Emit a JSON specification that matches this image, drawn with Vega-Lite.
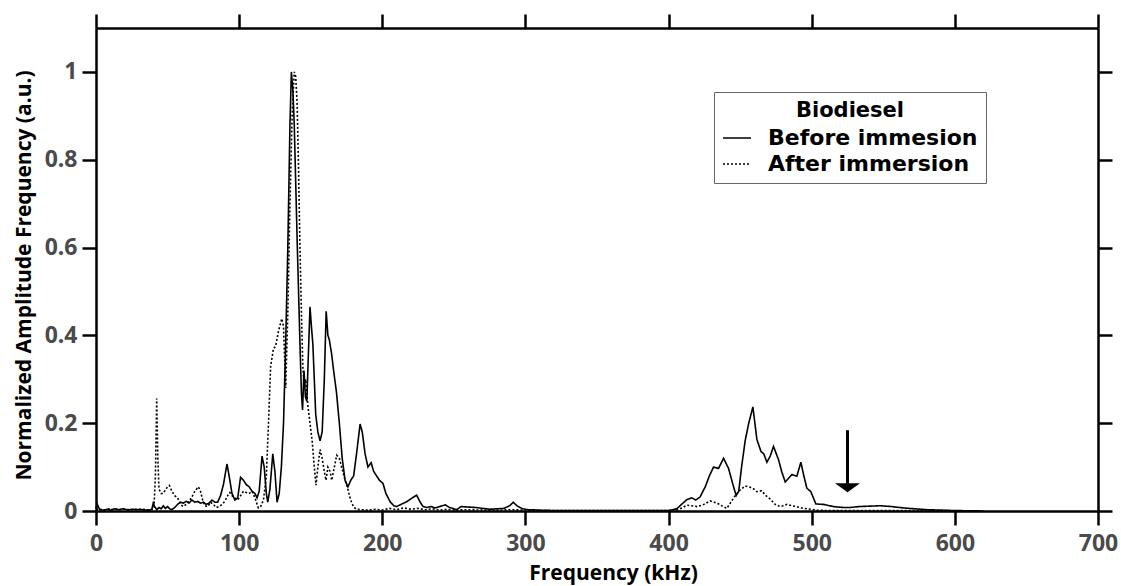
{
  "$schema": "https://vega.github.io/schema/vega-lite/v6.json",
  "width": 1002,
  "height": 483,
  "autosize": {"type": "none"},
  "padding": {"left": 96, "top": 28, "right": 23, "bottom": 75},
  "background": "white",
  "config": {
    "view": {"stroke": null},
    "axis": {
      "grid": false,
      "domainColor": "black",
      "domainWidth": 2.5,
      "tickColor": "black",
      "tickWidth": 2.5,
      "tickSize": 14,
      "labelFont": "Open Sans",
      "labelFontWeight": "bold",
      "labelFontSize": 23,
      "labelColor": "#4a4a4a",
      "titleFont": "Open Sans",
      "titleFontWeight": "bold",
      "titleFontSize": 21,
      "titleColor": "black"
    },
    "legend": {
      "orient": "none",
      "legendX": 618,
      "legendY": 64,
      "strokeColor": "#666666",
      "fillColor": "white",
      "padding": 8,
      "titleFont": "DejaVu Sans",
      "titleFontSize": 21,
      "titleFontWeight": "bold",
      "titleColor": "black",
      "titleAnchor": "middle",
      "titlePadding": 2,
      "titleLimit": 0,
      "labelFont": "DejaVu Sans",
      "labelFontSize": 22,
      "labelFontWeight": "bold",
      "labelColor": "black",
      "labelLimit": 0,
      "symbolType": "stroke",
      "symbolSize": 784,
      "symbolStrokeWidth": 1.5,
      "symbolStrokeColor": "black",
      "labelOffset": 16,
      "rowPadding": 0
    }
  },
  "resolve": {"axis": {"x": "independent", "y": "independent"}},
  "layer": [
    {
      "data": {
        "values": [
          {"f": 0, "a": 0.005, "s": "Before immesion"},
          {"f": 0.8, "a": 0.016, "s": "Before immesion"},
          {"f": 1.6, "a": 0.01, "s": "Before immesion"},
          {"f": 2.5, "a": 0.003, "s": "Before immesion"},
          {"f": 5, "a": 0.002, "s": "Before immesion"},
          {"f": 8, "a": 0.004, "s": "Before immesion"},
          {"f": 10, "a": 0.002, "s": "Before immesion"},
          {"f": 13, "a": 0.005, "s": "Before immesion"},
          {"f": 16, "a": 0.003, "s": "Before immesion"},
          {"f": 19, "a": 0.005, "s": "Before immesion"},
          {"f": 22, "a": 0.002, "s": "Before immesion"},
          {"f": 25, "a": 0.004, "s": "Before immesion"},
          {"f": 28, "a": 0.003, "s": "Before immesion"},
          {"f": 31, "a": 0.004, "s": "Before immesion"},
          {"f": 34, "a": 0.002, "s": "Before immesion"},
          {"f": 37, "a": 0.002, "s": "Before immesion"},
          {"f": 39, "a": 0.004, "s": "Before immesion"},
          {"f": 40, "a": 0.018, "s": "Before immesion"},
          {"f": 41, "a": 0.01, "s": "Before immesion"},
          {"f": 42.5, "a": 0.003, "s": "Before immesion"},
          {"f": 44, "a": 0.008, "s": "Before immesion"},
          {"f": 45.5, "a": 0.005, "s": "Before immesion"},
          {"f": 47, "a": 0.012, "s": "Before immesion"},
          {"f": 48.5, "a": 0.006, "s": "Before immesion"},
          {"f": 50, "a": 0.01, "s": "Before immesion"},
          {"f": 51.5, "a": 0.005, "s": "Before immesion"},
          {"f": 53, "a": 0.003, "s": "Before immesion"},
          {"f": 55, "a": 0.008, "s": "Before immesion"},
          {"f": 57, "a": 0.015, "s": "Before immesion"},
          {"f": 59, "a": 0.02, "s": "Before immesion"},
          {"f": 61, "a": 0.018, "s": "Before immesion"},
          {"f": 63, "a": 0.022, "s": "Before immesion"},
          {"f": 65, "a": 0.018, "s": "Before immesion"},
          {"f": 67, "a": 0.025, "s": "Before immesion"},
          {"f": 69, "a": 0.02, "s": "Before immesion"},
          {"f": 71, "a": 0.022, "s": "Before immesion"},
          {"f": 73, "a": 0.018, "s": "Before immesion"},
          {"f": 75, "a": 0.02, "s": "Before immesion"},
          {"f": 77, "a": 0.015, "s": "Before immesion"},
          {"f": 79, "a": 0.018, "s": "Before immesion"},
          {"f": 81, "a": 0.025, "s": "Before immesion"},
          {"f": 83, "a": 0.02, "s": "Before immesion"},
          {"f": 85, "a": 0.02, "s": "Before immesion"},
          {"f": 87, "a": 0.035, "s": "Before immesion"},
          {"f": 89, "a": 0.06, "s": "Before immesion"},
          {"f": 91.5, "a": 0.107, "s": "Before immesion"},
          {"f": 93, "a": 0.08, "s": "Before immesion"},
          {"f": 95, "a": 0.04, "s": "Before immesion"},
          {"f": 97, "a": 0.025, "s": "Before immesion"},
          {"f": 99, "a": 0.03, "s": "Before immesion"},
          {"f": 101, "a": 0.077, "s": "Before immesion"},
          {"f": 103, "a": 0.07, "s": "Before immesion"},
          {"f": 105, "a": 0.06, "s": "Before immesion"},
          {"f": 107, "a": 0.055, "s": "Before immesion"},
          {"f": 109, "a": 0.045, "s": "Before immesion"},
          {"f": 111, "a": 0.04, "s": "Before immesion"},
          {"f": 112.5, "a": 0.03, "s": "Before immesion"},
          {"f": 114, "a": 0.045, "s": "Before immesion"},
          {"f": 116, "a": 0.125, "s": "Before immesion"},
          {"f": 117.5, "a": 0.1, "s": "Before immesion"},
          {"f": 119, "a": 0.04, "s": "Before immesion"},
          {"f": 120, "a": 0.02, "s": "Before immesion"},
          {"f": 121.5, "a": 0.05, "s": "Before immesion"},
          {"f": 123.5, "a": 0.13, "s": "Before immesion"},
          {"f": 125, "a": 0.09, "s": "Before immesion"},
          {"f": 126.5, "a": 0.02, "s": "Before immesion"},
          {"f": 128, "a": 0.04, "s": "Before immesion"},
          {"f": 129.5, "a": 0.1, "s": "Before immesion"},
          {"f": 131, "a": 0.2, "s": "Before immesion"},
          {"f": 132.5, "a": 0.38, "s": "Before immesion"},
          {"f": 134, "a": 0.6, "s": "Before immesion"},
          {"f": 135.5, "a": 0.88, "s": "Before immesion"},
          {"f": 136.5, "a": 1.0, "s": "Before immesion"},
          {"f": 137.5, "a": 0.96, "s": "Before immesion"},
          {"f": 138.5, "a": 0.88, "s": "Before immesion"},
          {"f": 139.5, "a": 0.75, "s": "Before immesion"},
          {"f": 140.5, "a": 0.62, "s": "Before immesion"},
          {"f": 141.5, "a": 0.5, "s": "Before immesion"},
          {"f": 142.5, "a": 0.38, "s": "Before immesion"},
          {"f": 143.5, "a": 0.27, "s": "Before immesion"},
          {"f": 144.3, "a": 0.23, "s": "Before immesion"},
          {"f": 145.3, "a": 0.32, "s": "Before immesion"},
          {"f": 146.3, "a": 0.26, "s": "Before immesion"},
          {"f": 147.3, "a": 0.25, "s": "Before immesion"},
          {"f": 148.3, "a": 0.35, "s": "Before immesion"},
          {"f": 149.5, "a": 0.465, "s": "Before immesion"},
          {"f": 150.5, "a": 0.42, "s": "Before immesion"},
          {"f": 151.5, "a": 0.38, "s": "Before immesion"},
          {"f": 152.5, "a": 0.3, "s": "Before immesion"},
          {"f": 153.5, "a": 0.22, "s": "Before immesion"},
          {"f": 155, "a": 0.18, "s": "Before immesion"},
          {"f": 156.5, "a": 0.16, "s": "Before immesion"},
          {"f": 158, "a": 0.18, "s": "Before immesion"},
          {"f": 159.5, "a": 0.3, "s": "Before immesion"},
          {"f": 160.8, "a": 0.455, "s": "Before immesion"},
          {"f": 162, "a": 0.4, "s": "Before immesion"},
          {"f": 163, "a": 0.39, "s": "Before immesion"},
          {"f": 164.5, "a": 0.36, "s": "Before immesion"},
          {"f": 166, "a": 0.32, "s": "Before immesion"},
          {"f": 168, "a": 0.27, "s": "Before immesion"},
          {"f": 170, "a": 0.2, "s": "Before immesion"},
          {"f": 172, "a": 0.12, "s": "Before immesion"},
          {"f": 174, "a": 0.07, "s": "Before immesion"},
          {"f": 176, "a": 0.055, "s": "Before immesion"},
          {"f": 178, "a": 0.07, "s": "Before immesion"},
          {"f": 180, "a": 0.08, "s": "Before immesion"},
          {"f": 182, "a": 0.13, "s": "Before immesion"},
          {"f": 184.5, "a": 0.198, "s": "Before immesion"},
          {"f": 186, "a": 0.18, "s": "Before immesion"},
          {"f": 188, "a": 0.13, "s": "Before immesion"},
          {"f": 190, "a": 0.1, "s": "Before immesion"},
          {"f": 192.2, "a": 0.11, "s": "Before immesion"},
          {"f": 194, "a": 0.09, "s": "Before immesion"},
          {"f": 196, "a": 0.08, "s": "Before immesion"},
          {"f": 198, "a": 0.07, "s": "Before immesion"},
          {"f": 200.5, "a": 0.063, "s": "Before immesion"},
          {"f": 202.5, "a": 0.04, "s": "Before immesion"},
          {"f": 205.5, "a": 0.021, "s": "Before immesion"},
          {"f": 208, "a": 0.012, "s": "Before immesion"},
          {"f": 210, "a": 0.01, "s": "Before immesion"},
          {"f": 213, "a": 0.015, "s": "Before immesion"},
          {"f": 217, "a": 0.021, "s": "Before immesion"},
          {"f": 221, "a": 0.03, "s": "Before immesion"},
          {"f": 224, "a": 0.036, "s": "Before immesion"},
          {"f": 226.5, "a": 0.02, "s": "Before immesion"},
          {"f": 228.5, "a": 0.01, "s": "Before immesion"},
          {"f": 231, "a": 0.008, "s": "Before immesion"},
          {"f": 234, "a": 0.01, "s": "Before immesion"},
          {"f": 237, "a": 0.007, "s": "Before immesion"},
          {"f": 240, "a": 0.01, "s": "Before immesion"},
          {"f": 244, "a": 0.014, "s": "Before immesion"},
          {"f": 247, "a": 0.008, "s": "Before immesion"},
          {"f": 250, "a": 0.005, "s": "Before immesion"},
          {"f": 252, "a": 0.003, "s": "Before immesion"},
          {"f": 255, "a": 0.01, "s": "Before immesion"},
          {"f": 260, "a": 0.009, "s": "Before immesion"},
          {"f": 265, "a": 0.008, "s": "Before immesion"},
          {"f": 270, "a": 0.006, "s": "Before immesion"},
          {"f": 275, "a": 0.004, "s": "Before immesion"},
          {"f": 280, "a": 0.005, "s": "Before immesion"},
          {"f": 285, "a": 0.006, "s": "Before immesion"},
          {"f": 289, "a": 0.012, "s": "Before immesion"},
          {"f": 291.5, "a": 0.02, "s": "Before immesion"},
          {"f": 294, "a": 0.012, "s": "Before immesion"},
          {"f": 298, "a": 0.005, "s": "Before immesion"},
          {"f": 302, "a": 0.003, "s": "Before immesion"},
          {"f": 310, "a": 0.002, "s": "Before immesion"},
          {"f": 320, "a": 0.001, "s": "Before immesion"},
          {"f": 340, "a": 0.001, "s": "Before immesion"},
          {"f": 360, "a": 0.001, "s": "Before immesion"},
          {"f": 380, "a": 0.001, "s": "Before immesion"},
          {"f": 400, "a": 0.001, "s": "Before immesion"},
          {"f": 405.8, "a": 0.005, "s": "Before immesion"},
          {"f": 409, "a": 0.015, "s": "Before immesion"},
          {"f": 412.8, "a": 0.026, "s": "Before immesion"},
          {"f": 416.3, "a": 0.03, "s": "Before immesion"},
          {"f": 419, "a": 0.025, "s": "Before immesion"},
          {"f": 422, "a": 0.032, "s": "Before immesion"},
          {"f": 425.6, "a": 0.055, "s": "Before immesion"},
          {"f": 428.5, "a": 0.08, "s": "Before immesion"},
          {"f": 431.4, "a": 0.1, "s": "Before immesion"},
          {"f": 434.9, "a": 0.097, "s": "Before immesion"},
          {"f": 438.4, "a": 0.12, "s": "Before immesion"},
          {"f": 441.9, "a": 0.097, "s": "Before immesion"},
          {"f": 445, "a": 0.06, "s": "Before immesion"},
          {"f": 447.2, "a": 0.035, "s": "Before immesion"},
          {"f": 449, "a": 0.045, "s": "Before immesion"},
          {"f": 451, "a": 0.1, "s": "Before immesion"},
          {"f": 453.5, "a": 0.16, "s": "Before immesion"},
          {"f": 456, "a": 0.2, "s": "Before immesion"},
          {"f": 458.9, "a": 0.237, "s": "Before immesion"},
          {"f": 461.7, "a": 0.163, "s": "Before immesion"},
          {"f": 464.5, "a": 0.136, "s": "Before immesion"},
          {"f": 466.5, "a": 0.13, "s": "Before immesion"},
          {"f": 468.7, "a": 0.111, "s": "Before immesion"},
          {"f": 471, "a": 0.125, "s": "Before immesion"},
          {"f": 473.3, "a": 0.147, "s": "Before immesion"},
          {"f": 476.8, "a": 0.117, "s": "Before immesion"},
          {"f": 479, "a": 0.09, "s": "Before immesion"},
          {"f": 481.5, "a": 0.066, "s": "Before immesion"},
          {"f": 484, "a": 0.075, "s": "Before immesion"},
          {"f": 486.2, "a": 0.083, "s": "Before immesion"},
          {"f": 489.6, "a": 0.079, "s": "Before immesion"},
          {"f": 492.4, "a": 0.111, "s": "Before immesion"},
          {"f": 494.5, "a": 0.08, "s": "Before immesion"},
          {"f": 496.6, "a": 0.052, "s": "Before immesion"},
          {"f": 499.4, "a": 0.044, "s": "Before immesion"},
          {"f": 502.9, "a": 0.016, "s": "Before immesion"},
          {"f": 508.3, "a": 0.015, "s": "Before immesion"},
          {"f": 515.3, "a": 0.01, "s": "Before immesion"},
          {"f": 522, "a": 0.008, "s": "Before immesion"},
          {"f": 527, "a": 0.008, "s": "Before immesion"},
          {"f": 532.7, "a": 0.01, "s": "Before immesion"},
          {"f": 540, "a": 0.011, "s": "Before immesion"},
          {"f": 547.9, "a": 0.012, "s": "Before immesion"},
          {"f": 556, "a": 0.01, "s": "Before immesion"},
          {"f": 564, "a": 0.007, "s": "Before immesion"},
          {"f": 572, "a": 0.005, "s": "Before immesion"},
          {"f": 580.5, "a": 0.003, "s": "Before immesion"},
          {"f": 590, "a": 0.002, "s": "Before immesion"},
          {"f": 600, "a": 0.001, "s": "Before immesion"},
          {"f": 620, "a": 0.0, "s": "Before immesion"},
          {"f": 0, "a": 0.003, "s": "After immersion"},
          {"f": 3, "a": 0.004, "s": "After immersion"},
          {"f": 6, "a": 0.002, "s": "After immersion"},
          {"f": 9, "a": 0.005, "s": "After immersion"},
          {"f": 12, "a": 0.002, "s": "After immersion"},
          {"f": 15, "a": 0.004, "s": "After immersion"},
          {"f": 18, "a": 0.003, "s": "After immersion"},
          {"f": 21, "a": 0.005, "s": "After immersion"},
          {"f": 24, "a": 0.002, "s": "After immersion"},
          {"f": 27, "a": 0.004, "s": "After immersion"},
          {"f": 30, "a": 0.003, "s": "After immersion"},
          {"f": 33, "a": 0.004, "s": "After immersion"},
          {"f": 36, "a": 0.002, "s": "After immersion"},
          {"f": 39, "a": 0.003, "s": "After immersion"},
          {"f": 40.5, "a": 0.008, "s": "After immersion"},
          {"f": 41.5, "a": 0.08, "s": "After immersion"},
          {"f": 42.4, "a": 0.256, "s": "After immersion"},
          {"f": 43.2, "a": 0.12, "s": "After immersion"},
          {"f": 44, "a": 0.05, "s": "After immersion"},
          {"f": 45.5, "a": 0.04, "s": "After immersion"},
          {"f": 47, "a": 0.04, "s": "After immersion"},
          {"f": 48.5, "a": 0.048, "s": "After immersion"},
          {"f": 50, "a": 0.055, "s": "After immersion"},
          {"f": 51.3, "a": 0.058, "s": "After immersion"},
          {"f": 53, "a": 0.045, "s": "After immersion"},
          {"f": 55, "a": 0.035, "s": "After immersion"},
          {"f": 57, "a": 0.03, "s": "After immersion"},
          {"f": 59, "a": 0.015, "s": "After immersion"},
          {"f": 61, "a": 0.01, "s": "After immersion"},
          {"f": 63, "a": 0.015, "s": "After immersion"},
          {"f": 65, "a": 0.022, "s": "After immersion"},
          {"f": 67, "a": 0.032, "s": "After immersion"},
          {"f": 69, "a": 0.045, "s": "After immersion"},
          {"f": 71.5, "a": 0.055, "s": "After immersion"},
          {"f": 73, "a": 0.045, "s": "After immersion"},
          {"f": 74.5, "a": 0.025, "s": "After immersion"},
          {"f": 76, "a": 0.012, "s": "After immersion"},
          {"f": 78, "a": 0.01, "s": "After immersion"},
          {"f": 80, "a": 0.02, "s": "After immersion"},
          {"f": 82, "a": 0.015, "s": "After immersion"},
          {"f": 84, "a": 0.008, "s": "After immersion"},
          {"f": 86, "a": 0.01, "s": "After immersion"},
          {"f": 88, "a": 0.015, "s": "After immersion"},
          {"f": 90, "a": 0.022, "s": "After immersion"},
          {"f": 92, "a": 0.035, "s": "After immersion"},
          {"f": 93.5, "a": 0.042, "s": "After immersion"},
          {"f": 95, "a": 0.035, "s": "After immersion"},
          {"f": 97, "a": 0.03, "s": "After immersion"},
          {"f": 99, "a": 0.025, "s": "After immersion"},
          {"f": 101, "a": 0.035, "s": "After immersion"},
          {"f": 103, "a": 0.045, "s": "After immersion"},
          {"f": 105, "a": 0.042, "s": "After immersion"},
          {"f": 107, "a": 0.04, "s": "After immersion"},
          {"f": 109, "a": 0.045, "s": "After immersion"},
          {"f": 111, "a": 0.03, "s": "After immersion"},
          {"f": 113.4, "a": 0.007, "s": "After immersion"},
          {"f": 115, "a": 0.01, "s": "After immersion"},
          {"f": 117, "a": 0.025, "s": "After immersion"},
          {"f": 119, "a": 0.08, "s": "After immersion"},
          {"f": 120.5, "a": 0.2, "s": "After immersion"},
          {"f": 122, "a": 0.33, "s": "After immersion"},
          {"f": 124, "a": 0.37, "s": "After immersion"},
          {"f": 125.5, "a": 0.375, "s": "After immersion"},
          {"f": 127.5, "a": 0.41, "s": "After immersion"},
          {"f": 129.8, "a": 0.438, "s": "After immersion"},
          {"f": 131, "a": 0.42, "s": "After immersion"},
          {"f": 132.5, "a": 0.28, "s": "After immersion"},
          {"f": 134, "a": 0.45, "s": "After immersion"},
          {"f": 135.5, "a": 0.7, "s": "After immersion"},
          {"f": 137, "a": 0.9, "s": "After immersion"},
          {"f": 138.5, "a": 1.0, "s": "After immersion"},
          {"f": 139.5, "a": 0.99, "s": "After immersion"},
          {"f": 140.5, "a": 0.93, "s": "After immersion"},
          {"f": 141.5, "a": 0.78, "s": "After immersion"},
          {"f": 142.5, "a": 0.6, "s": "After immersion"},
          {"f": 143.5, "a": 0.45, "s": "After immersion"},
          {"f": 144.5, "a": 0.33, "s": "After immersion"},
          {"f": 145.5, "a": 0.28, "s": "After immersion"},
          {"f": 146.5, "a": 0.3, "s": "After immersion"},
          {"f": 148, "a": 0.24, "s": "After immersion"},
          {"f": 149.5, "a": 0.2, "s": "After immersion"},
          {"f": 151, "a": 0.16, "s": "After immersion"},
          {"f": 152.5, "a": 0.1, "s": "After immersion"},
          {"f": 153.7, "a": 0.059, "s": "After immersion"},
          {"f": 155, "a": 0.1, "s": "After immersion"},
          {"f": 156.5, "a": 0.14, "s": "After immersion"},
          {"f": 158, "a": 0.12, "s": "After immersion"},
          {"f": 159.5, "a": 0.09, "s": "After immersion"},
          {"f": 160.7, "a": 0.07, "s": "After immersion"},
          {"f": 162, "a": 0.1, "s": "After immersion"},
          {"f": 163.5, "a": 0.09, "s": "After immersion"},
          {"f": 164.7, "a": 0.07, "s": "After immersion"},
          {"f": 166.5, "a": 0.1, "s": "After immersion"},
          {"f": 168.2, "a": 0.127, "s": "After immersion"},
          {"f": 170, "a": 0.12, "s": "After immersion"},
          {"f": 172, "a": 0.095, "s": "After immersion"},
          {"f": 174, "a": 0.07, "s": "After immersion"},
          {"f": 175.5, "a": 0.056, "s": "After immersion"},
          {"f": 177, "a": 0.035, "s": "After immersion"},
          {"f": 178.5, "a": 0.02, "s": "After immersion"},
          {"f": 180, "a": 0.009, "s": "After immersion"},
          {"f": 182, "a": 0.004, "s": "After immersion"},
          {"f": 185, "a": 0.003, "s": "After immersion"},
          {"f": 190, "a": 0.002, "s": "After immersion"},
          {"f": 195, "a": 0.004, "s": "After immersion"},
          {"f": 200, "a": 0.002, "s": "After immersion"},
          {"f": 205, "a": 0.006, "s": "After immersion"},
          {"f": 210, "a": 0.003, "s": "After immersion"},
          {"f": 215, "a": 0.007, "s": "After immersion"},
          {"f": 220, "a": 0.004, "s": "After immersion"},
          {"f": 225, "a": 0.006, "s": "After immersion"},
          {"f": 230, "a": 0.003, "s": "After immersion"},
          {"f": 235, "a": 0.005, "s": "After immersion"},
          {"f": 240, "a": 0.002, "s": "After immersion"},
          {"f": 245, "a": 0.004, "s": "After immersion"},
          {"f": 250, "a": 0.002, "s": "After immersion"},
          {"f": 260, "a": 0.003, "s": "After immersion"},
          {"f": 270, "a": 0.002, "s": "After immersion"},
          {"f": 280, "a": 0.002, "s": "After immersion"},
          {"f": 290, "a": 0.003, "s": "After immersion"},
          {"f": 300, "a": 0.002, "s": "After immersion"},
          {"f": 310, "a": 0.001, "s": "After immersion"},
          {"f": 330, "a": 0.001, "s": "After immersion"},
          {"f": 360, "a": 0.001, "s": "After immersion"},
          {"f": 390, "a": 0.001, "s": "After immersion"},
          {"f": 400, "a": 0.001, "s": "After immersion"},
          {"f": 406, "a": 0.002, "s": "After immersion"},
          {"f": 410, "a": 0.008, "s": "After immersion"},
          {"f": 412.8, "a": 0.013, "s": "After immersion"},
          {"f": 416, "a": 0.012, "s": "After immersion"},
          {"f": 420, "a": 0.01, "s": "After immersion"},
          {"f": 424, "a": 0.014, "s": "After immersion"},
          {"f": 429, "a": 0.023, "s": "After immersion"},
          {"f": 432, "a": 0.02, "s": "After immersion"},
          {"f": 435, "a": 0.016, "s": "After immersion"},
          {"f": 438, "a": 0.01, "s": "After immersion"},
          {"f": 440.7, "a": 0.006, "s": "After immersion"},
          {"f": 443.5, "a": 0.02, "s": "After immersion"},
          {"f": 446.5, "a": 0.035, "s": "After immersion"},
          {"f": 450, "a": 0.048, "s": "After immersion"},
          {"f": 453.5, "a": 0.057, "s": "After immersion"},
          {"f": 457, "a": 0.054, "s": "After immersion"},
          {"f": 459.5, "a": 0.05, "s": "After immersion"},
          {"f": 461.7, "a": 0.044, "s": "After immersion"},
          {"f": 465, "a": 0.046, "s": "After immersion"},
          {"f": 468, "a": 0.035, "s": "After immersion"},
          {"f": 471, "a": 0.027, "s": "After immersion"},
          {"f": 474.5, "a": 0.015, "s": "After immersion"},
          {"f": 478, "a": 0.01, "s": "After immersion"},
          {"f": 482.6, "a": 0.015, "s": "After immersion"},
          {"f": 486, "a": 0.012, "s": "After immersion"},
          {"f": 489.6, "a": 0.01, "s": "After immersion"},
          {"f": 493, "a": 0.007, "s": "After immersion"},
          {"f": 496.6, "a": 0.005, "s": "After immersion"},
          {"f": 503.6, "a": 0.002, "s": "After immersion"},
          {"f": 510, "a": 0.001, "s": "After immersion"},
          {"f": 530, "a": 0.001, "s": "After immersion"},
          {"f": 560, "a": 0.001, "s": "After immersion"},
          {"f": 590, "a": 0.001, "s": "After immersion"},
          {"f": 610, "a": 0.0, "s": "After immersion"}
        ]
      },
      "mark": {"type": "line", "color": "black", "strokeWidth": 1.6, "strokeCap": "butt"},
      "encoding": {
        "x": {
          "field": "f", "type": "quantitative",
          "scale": {"domain": [0, 700], "nice": false, "zero": false},
          "axis": {"orient": "bottom", "values": [0, 100, 200, 300, 400, 500, 600, 700], "title": "Frequency (kHz)", "labelPadding": 7, "titlePadding": 7, "titleX": 517, "labelFlush": false}
        },
        "y": {
          "field": "a", "type": "quantitative",
          "scale": {"domain": [0, 1.1], "nice": false, "zero": false},
          "axis": {"orient": "left", "values": [0, 0.2, 0.4, 0.6, 0.8, 1.0], "format": "~g", "title": "Normalized Amplitude Frequency (a.u.)", "labelPadding": 5, "titlePadding": 10, "titleY": 247, "labelFlush": false}
        },
        "strokeDash": {
          "field": "s", "type": "nominal",
          "scale": {"domain": ["Before immesion", "After immersion"], "range": [[1, 0], [2, 2]]},
          "legend": {"title": "Biodiesel"}
        },
        "detail": {"field": "s"}
      }
    },
    {
      "data": {"values": [{"f": 525, "top": 0.184, "bot": 0.062}]},
      "mark": {"type": "rule", "color": "black", "strokeWidth": 3},
      "encoding": {
        "x": {"field": "f", "type": "quantitative",
          "axis": {"orient": "top", "values": [0, 100, 200, 300, 400, 500, 600, 700], "labels": false, "title": null}},
        "y": {"field": "top", "type": "quantitative",
          "axis": {"orient": "right", "values": [0, 0.2, 0.4, 0.6, 0.8, 1.0], "labels": false, "title": null}},
        "y2": {"field": "bot"}
      }
    },
    {
      "data": {"values": [{"f": 525, "a": 0.053}]},
      "mark": {"type": "point", "filled": true, "color": "black", "opacity": 1, "size": 625, "shape": "M-1,-0.36L1,-0.36L0,0.36Z", "strokeWidth": 0},
      "encoding": {
        "x": {"field": "f", "type": "quantitative", "axis": null},
        "y": {"field": "a", "type": "quantitative", "axis": null}
      }
    }
  ]
}
